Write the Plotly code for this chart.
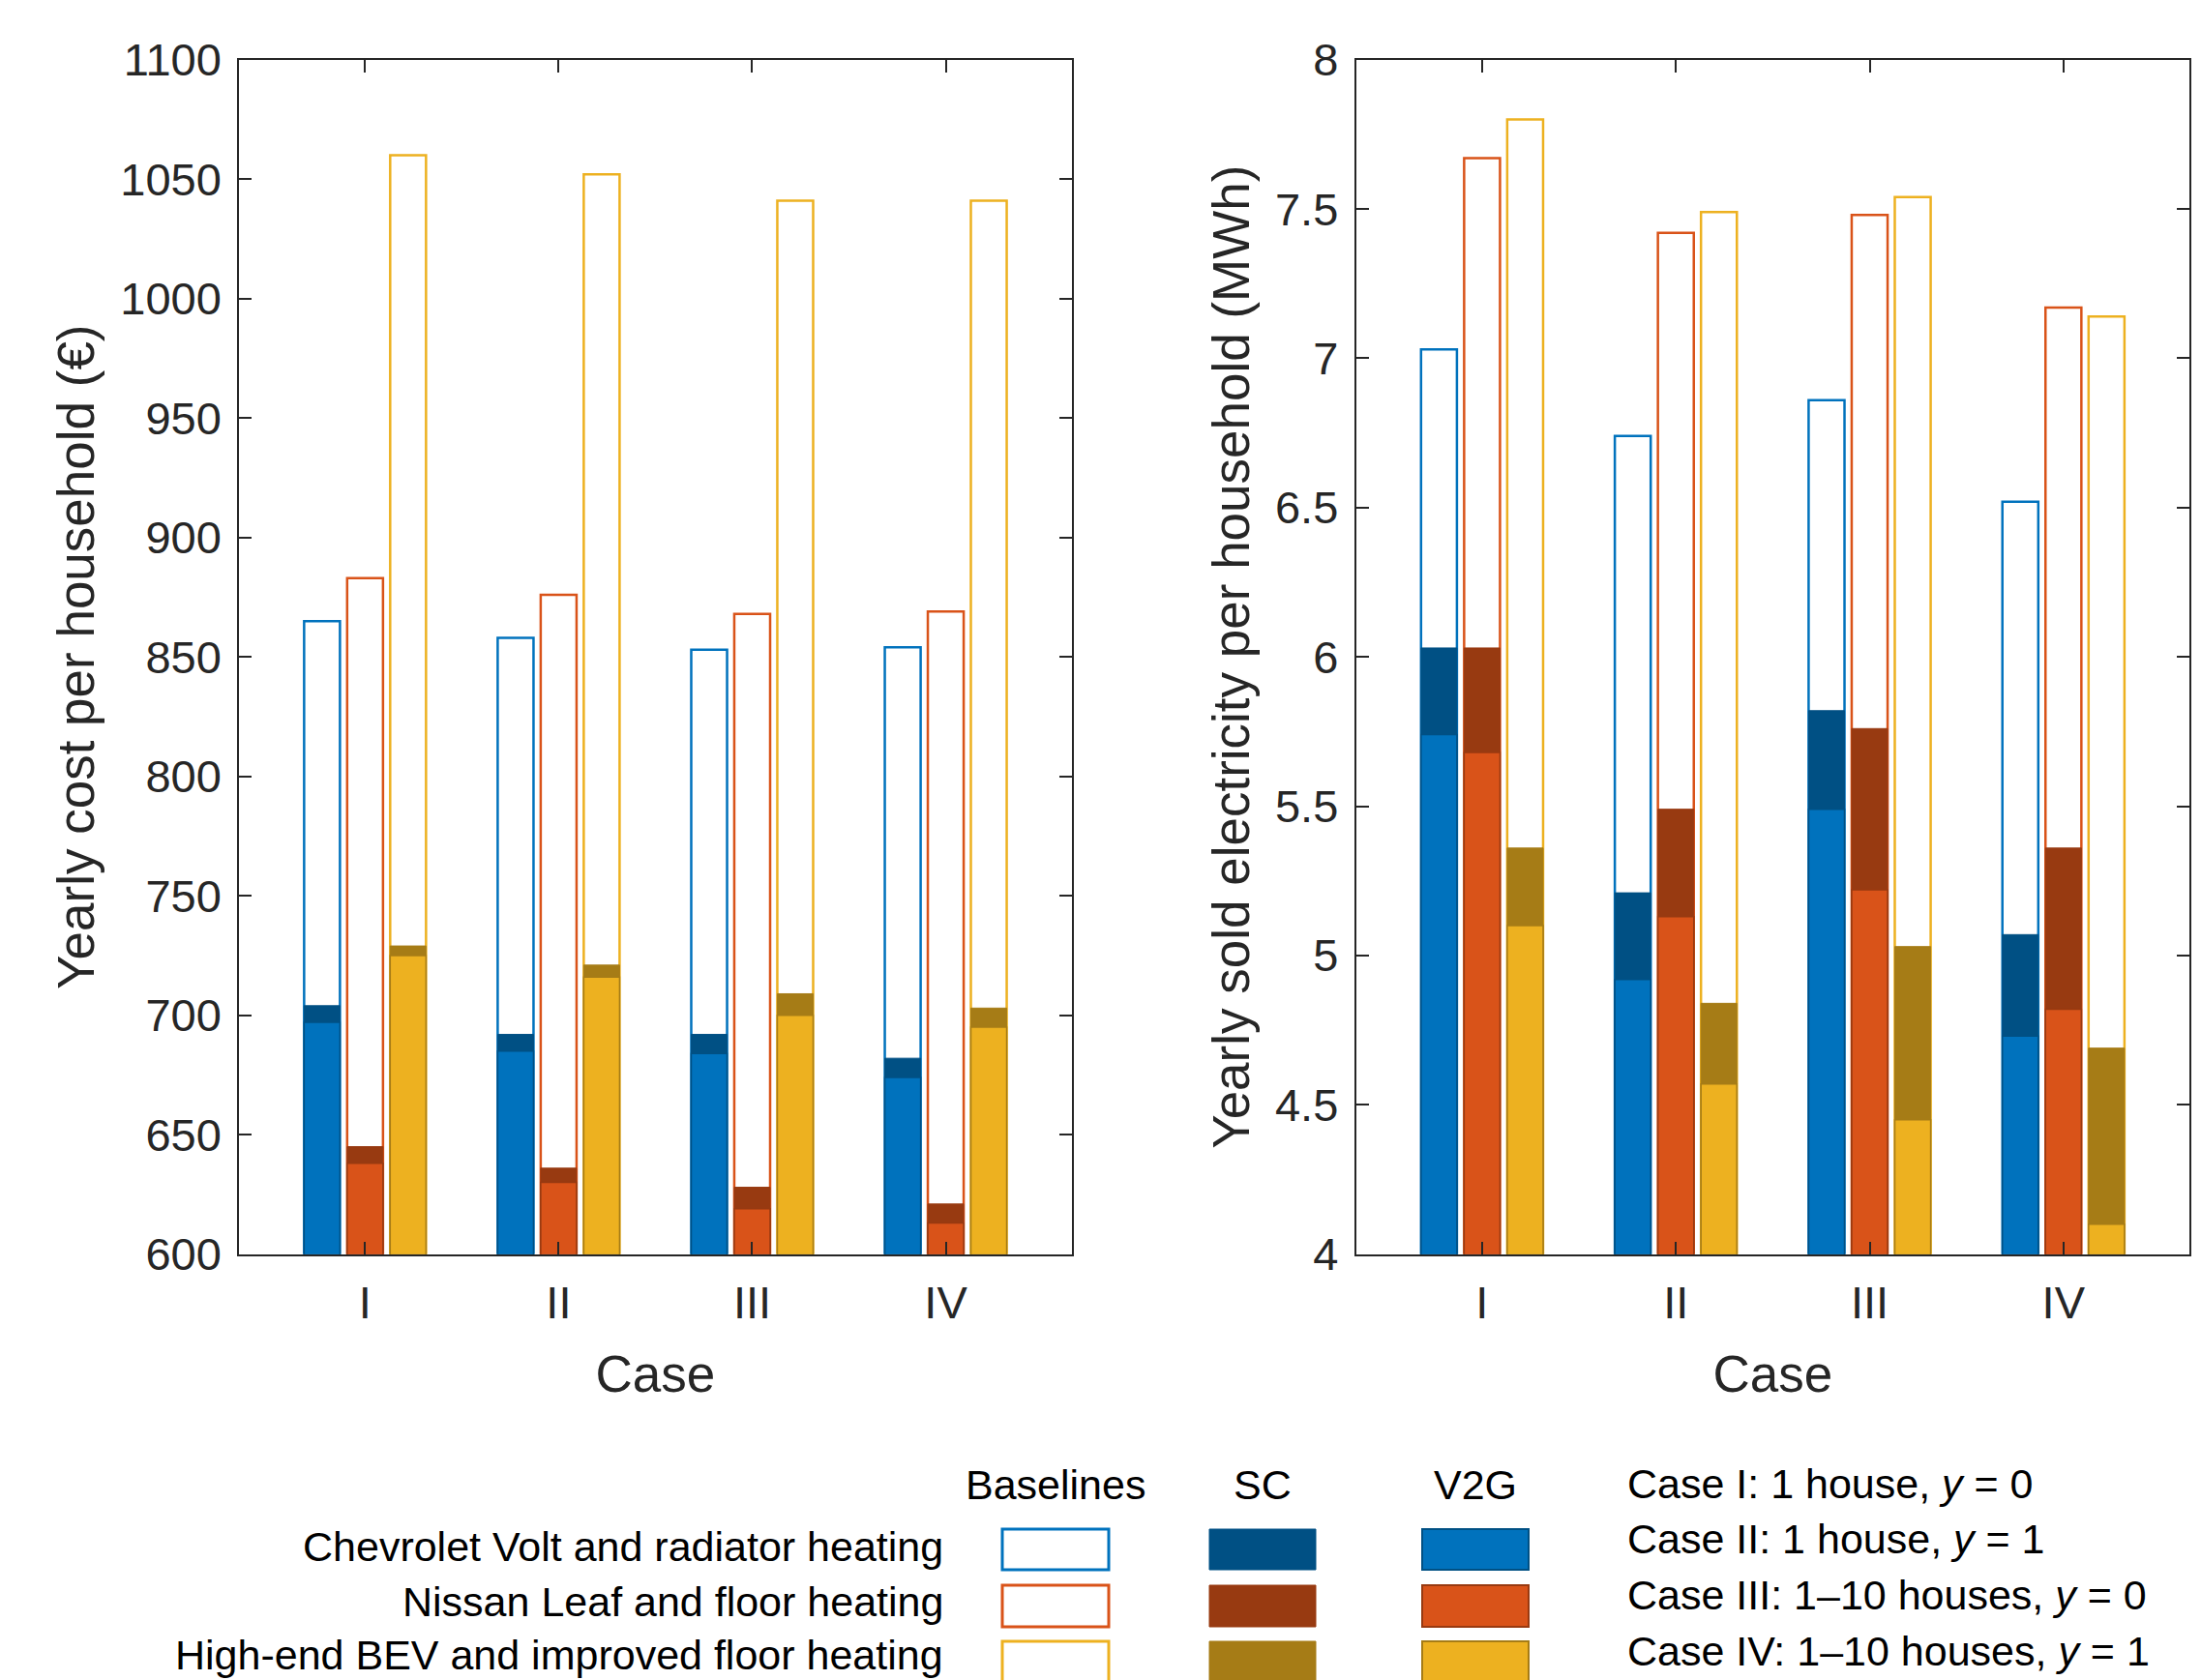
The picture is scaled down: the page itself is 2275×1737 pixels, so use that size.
import plotly.graph_objects as go

# ---------------- data ----------------
cases = ["I", "II", "III", "IV"]
vehicles = ["Chevrolet Volt and radiator heating",
            "Nissan Leaf and floor heating",
            "High-end BEV and improved floor heating"]

cost_baseline_volt = [865, 858, 853, 854]
cost_sc_volt = [704, 692, 692, 682]
cost_v2g_volt = [697, 685, 684, 674]
cost_baseline_leaf = [883, 876, 868, 869]
cost_sc_leaf = [645, 636, 628, 621]
cost_v2g_leaf = [638, 630, 619, 613]
cost_baseline_bev = [1060, 1052, 1041, 1041]
cost_sc_bev = [729, 721, 709, 703]
cost_v2g_bev = [725, 716, 700, 695]

sold_baseline_volt = [7.03, 6.74, 6.86, 6.52]
sold_sc_volt = [6.03, 5.21, 5.82, 5.07]
sold_v2g_volt = [5.74, 4.92, 5.49, 4.73]
sold_baseline_leaf = [7.67, 7.42, 7.48, 7.17]
sold_sc_leaf = [6.03, 5.49, 5.76, 5.36]
sold_v2g_leaf = [5.68, 5.13, 5.22, 4.82]
sold_baseline_bev = [7.80, 7.49, 7.54, 7.14]
sold_sc_bev = [5.36, 4.84, 5.03, 4.69]
sold_v2g_bev = [5.10, 4.57, 4.45, 4.10]

case_notes = ["Case I: 1 house, <i>y</i> = 0",
              "Case II: 1 house, <i>y</i> = 1",
              "Case III: 1\u201310 houses, <i>y</i> = 0",
              "Case IV: 1\u201310 houses, <i>y</i> = 1"]
column_headers = ["Baselines", "SC", "V2G"]

# ---------------- styles ----------------
main_colors = ["#0072BD", "#D95319", "#EDB120"]
dark_colors = ["#005084", "#983A11", "#A67C16"]
FONT = "Liberation Sans, Arial, sans-serif"
AX = "#262626"
W, H = 2275, 1737
OFF = 8  # default page body margin


def px(x):
    return (x - OFF) / W


def py(y):
    return 1 - (y - OFF) / H


cost_sets = [(cost_baseline_volt, cost_sc_volt, cost_v2g_volt),
             (cost_baseline_leaf, cost_sc_leaf, cost_v2g_leaf),
             (cost_baseline_bev, cost_sc_bev, cost_v2g_bev)]
sold_sets = [(sold_baseline_volt, sold_sc_volt, sold_v2g_volt),
             (sold_baseline_leaf, sold_sc_leaf, sold_v2g_leaf),
             (sold_baseline_bev, sold_sc_bev, sold_v2g_bev)]

fig = go.Figure()


def add_bars(sets, xa, ya, tag):
    for i, (base, sc, v2g) in enumerate(sets):
        og = f"{tag}{i}"
        fig.add_trace(go.Bar(x=cases, y=base, xaxis=xa, yaxis=ya, offsetgroup=og,
                             marker=dict(color="white", line=dict(color=main_colors[i], width=2.5)),
                             showlegend=False, hoverinfo="y"))
        fig.add_trace(go.Bar(x=cases, y=sc, xaxis=xa, yaxis=ya, offsetgroup=og,
                             marker=dict(color=dark_colors[i], line=dict(color=dark_colors[i], width=1)),
                             showlegend=False, hoverinfo="y"))
        fig.add_trace(go.Bar(x=cases, y=v2g, xaxis=xa, yaxis=ya, offsetgroup=og,
                             marker=dict(color=main_colors[i], line=dict(color=dark_colors[i], width=1.5)),
                             showlegend=False, hoverinfo="y"))


add_bars(cost_sets, "x", "y", "c")
add_bars(sold_sets, "x2", "y2", "s")

axis_common = dict(showline=True, linecolor=AX, linewidth=2, mirror="ticks",
                   ticks="inside", ticklen=13, tickwidth=2, tickcolor=AX,
                   showgrid=False, zeroline=False, automargin=False,
                   tickfont=dict(family=FONT, size=47, color=AX),
                   title_font=dict(family=FONT, size=53, color=AX))

y_dom = [py(1296.7), py(61.7)]

fig.update_layout(
    width=W, height=H,
    margin=dict(l=0, r=0, t=0, b=0),
    paper_bgcolor="white", plot_bgcolor="white",
    barmode="group", bargap=0.333, bargroupgap=0.167,
    showlegend=False,
    xaxis=dict(domain=[px(247.3), px(1107.6)], anchor="y", range=[-0.65, 3.65],
               ticklabelstandoff=8,
               title=dict(text="Case", standoff=30), **axis_common),
    yaxis=dict(domain=y_dom, anchor="x", range=[600, 1100],
               dtick=50, ticklabelstandoff=7,
               title=dict(text="Yearly cost per household (\u20ac)", standoff=10), **axis_common),
    xaxis2=dict(domain=[px(1401.7), px(2263)], anchor="y2", range=[-0.65, 3.65],
                ticklabelstandoff=8,
                title=dict(text="Case", standoff=30), **axis_common),
    yaxis2=dict(domain=y_dom, anchor="x2", range=[4, 8],
                dtick=0.5, ticklabelstandoff=7,
                title=dict(text="Yearly sold electricity per household (MWh)", standoff=9),
                **axis_common),
)

# ---------------- custom legend table ----------------
col_x = [(1036, 1146), (1250, 1360), (1470, 1580)]
row_y = [(1581, 1623), (1639, 1682), (1697, 1741)]
label_y = [1599, 1656, 1711]
header_y = 1535
label_right = 977
notes_left = 1680
notes_y = [1534, 1591, 1649, 1707]

shapes = []
annotations = []
for j, h in enumerate(column_headers):
    annotations.append(dict(text=h, x=px((col_x[j][0] + col_x[j][1]) / 2), y=py(header_y),
                            xref="paper", yref="paper", showarrow=False,
                            xanchor="center", yanchor="middle",
                            font=dict(family=FONT, size=43, color="black")))
for i, name in enumerate(vehicles):
    y0, y1 = row_y[i]
    annotations.append(dict(text=name, x=px(label_right), y=py(label_y[i]),
                            xref="paper", yref="paper", showarrow=False,
                            xanchor="right", yanchor="middle",
                            font=dict(family=FONT, size=43, color="black")))
    styles = [("white", main_colors[i], 3),
              (dark_colors[i], dark_colors[i], 1),
              (main_colors[i], dark_colors[i], 2)]
    for j, (fill, line, lw) in enumerate(styles):
        x0, x1 = col_x[j]
        shapes.append(dict(type="rect", xref="paper", yref="paper",
                           x0=px(x0), x1=px(x1), y0=py(y1), y1=py(y0),
                           fillcolor=fill, line=dict(color=line, width=lw)))
for k, note in enumerate(case_notes):
    annotations.append(dict(text=note, x=px(notes_left), y=py(notes_y[k]),
                            xref="paper", yref="paper", showarrow=False,
                            xanchor="left", yanchor="middle",
                            font=dict(family=FONT, size=43, color="black")))

fig.update_layout(shapes=shapes, annotations=annotations)

fig.write_html("out.html")
